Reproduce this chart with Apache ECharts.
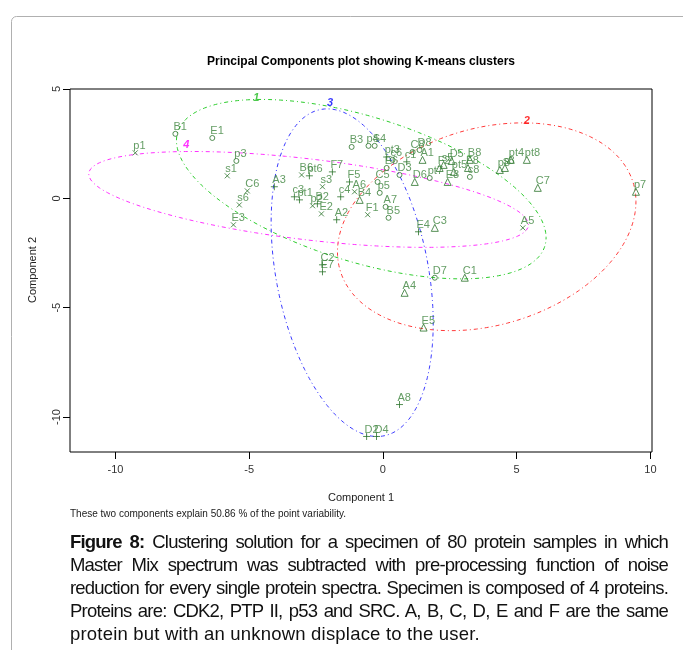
<!DOCTYPE html>
<html><head><meta charset="utf-8">
<script src="https://cdn.jsdelivr.net/npm/echarts@6/dist/echarts.min.js"></script>
<style>
html,body{margin:0;padding:0;background:#fff;}
#wrap{position:relative;width:683px;height:650px;overflow:hidden;}
#chart{position:absolute;left:0;top:0;width:683px;height:650px;}
#cap{position:absolute;left:70px;top:530px;width:598px;font-family:"Liberation Sans",Arial,sans-serif;font-size:18.5px;line-height:23px;color:#111;}
#cap span{display:block;white-space:nowrap;}
#cap span.j{text-align:justify;text-align-last:justify;letter-spacing:-0.8px;}
#cap span.l{letter-spacing:0.2px;}
</style></head>
<body><div id="wrap"><div id="chart"></div>
<div id="cap">
<span class="j"><b>Figure 8:</b> Clustering solution for a specimen of 80 protein samples in which</span>
<span class="j">Master Mix spectrum was subtracted with pre-processing function of noise</span>
<span class="j">reduction for every single protein spectra. Specimen is composed of 4 proteins.</span>
<span class="j">Proteins are: CDK2, PTP II, p53 and SRC. A, B, C, D, E and F are the same</span>
<span class="l">protein but with an unknown displace to the user.</span>
</div></div>
<script>
// ---- tick labels ----
const xTicks = [-10, -5, 0, 5, 10];
const yTicks = [-10, -5, 0, 5];

// ---- cluster 1 (circles) ----
const c1Names = ['B1','E1','p3','B3','p4','S4','p5','A7','B5','D7','C8','D8','C5','c8','E6','D3','c6','pt7'];
const c1X = [-7.76,-6.38,-5.48,-1.17,-0.54,-0.31,-0.12,0.10,0.21,1.94,1.11,1.37,-0.20,3.25,0.14,0.62,0.36,1.75];
const c1Y = [2.95,2.76,1.71,2.35,2.40,2.40,0.25,-0.39,-0.89,-3.63,2.12,2.21,0.75,0.98,1.39,1.07,1.76,0.93];

// ---- cluster 2 (triangles) ----
const c2Names = ['B4','C3','C1','A4','E5','D5','A1','E8','C7','pt4','pt8','p8','s8','p7','D6','F2','s5','B8','F8','pt5'];
const c2X = [-0.87,1.94,3.06,0.81,1.52,2.57,1.48,2.42,5.79,4.78,5.38,4.37,4.56,9.46,1.19,2.12,2.27,3.25,3.18,2.65];
const c2Y = [-0.07,-1.35,-3.63,-4.32,-5.91,1.71,1.76,0.75,0.48,1.76,1.76,1.30,1.39,0.30,0.75,1.39,1.53,1.76,1.39,1.21];

// ---- cluster 3 (plus) ----
const c3Names = ['A3','pt6','F7','F5','c4','c3','pt1','B2','A2','E4','C2','E7','A8','D2','D4','pt3','c1'];
const c3X = [-4.06,-2.75,-1.89,-1.25,-1.58,-3.31,-3.12,-2.45,-1.73,1.33,-2.26,-2.26,0.62,-0.61,-0.24,0.14,0.89];
const c3Y = [0.53,1.03,1.21,0.75,0.07,0.07,-0.07,-0.25,-0.98,-1.53,-3.04,-3.36,-9.43,-10.89,-10.89,1.89,1.67];

// ---- cluster 4 (x) ----
const c4Names = ['p1','s1','C6','s6','E3','B6','s3','A6','p2','E2','F1','A5'];
const c4X = [-9.26,-5.82,-5.07,-5.37,-5.59,-3.04,-2.26,-1.06,-2.63,-2.30,-0.57,5.23];
const c4Y = [2.08,1.03,0.34,-0.30,-1.21,1.07,0.53,0.30,-0.34,-0.71,-0.75,-1.35];

// ---- cluster ellipses: centre, first and second conjugate semi-axes ----
const ellCenter = [[-0.81,0.42],[3.88,-1.30],[-1.15,-3.40],[-2.78,-0.05]];
const ellU = [[6.91,-2.22],[5.58,1.15],[3.03,-2.30],[8.22,-1.16]];
const ellV = [[0,3.45],[0,4.61],[0,7.13],[0,1.86]];
const ellColors = ['#2ccc2c','#ff3a3a','#3a3aff','#ff30ff'];
const clusterLabelNames = ['1','2','3','4'];
const clusterLabelX = [-4.73,5.38,-1.98,-7.35];
const clusterLabelY = [4.61,3.52,4.34,2.42];
const clusterLabelColors = ['#22bb22','#ff0000','#0000ff','#ff00ff'];

const PT = '#2a732a';
const FONT = '"Liberation Sans", Arial, sans-serif';

function ellipsePts(i){
  const out=[];
  for(let k=0;k<=180;k++){
    const t=2*Math.PI*k/180;
    out.push([ellCenter[i][0]+ellU[i][0]*Math.cos(t)+ellV[i][0]*Math.sin(t),
              ellCenter[i][1]+ellU[i][1]*Math.cos(t)+ellV[i][1]*Math.sin(t)]);
  }
  return out;
}
function pts(names,xs,ys){return names.map((n,i)=>({name:n,value:[xs[i],ys[i]]}));}

const labelCfg = {show:true,formatter:'{b}',position:'inside',align:'left',verticalAlign:'middle',
  offset:[-2,-7],color:'#3d843d',fontSize:11,fontFamily:FONT};
function sc(data,symbol,size){
  return {type:'scatter',data:data,symbol:symbol,symbolSize:size,silent:true,z:5,
    itemStyle:{color:'rgba(0,0,0,0)',borderColor:PT,borderWidth:1},
    label:labelCfg,emphasis:{disabled:true}};
}

const series=[];
for(let i=0;i<4;i++){
  series.push({type:'line',data:ellipsePts(i),showSymbol:false,silent:true,smooth:false,z:3,
    lineStyle:{color:ellColors[i],width:1,type:[1,3,4,3]}});
}
series.push(sc(pts(c1Names,c1X,c1Y),'circle',5));
series.push(sc(pts(c2Names,c2X,c2Y),'triangle',7));
series.push(sc(pts(c3Names,c3X,c3Y),'path://M5,0L5,10M0,5L10,5',7));
series.push(sc(pts(c4Names,c4X,c4Y),'path://M0,0L10,10M10,0L0,10',5));
series.push({type:'scatter',symbolSize:0,silent:true,z:6,
  data:clusterLabelNames.map((n,i)=>({name:n,value:[clusterLabelX[i],clusterLabelY[i]],
    label:{color:clusterLabelColors[i]}})),
  label:{show:true,formatter:'{b}',position:'inside',fontSize:11,fontWeight:'bold',fontStyle:'italic',fontFamily:FONT}});

const chart = echarts.init(document.getElementById('chart'),null,{renderer:'canvas'});
chart.setOption({
  animation:false,
  grid:{left:70,right:31,top:89,bottom:198,show:true,borderColor:'#000',borderWidth:1,backgroundColor:'transparent'},
  xAxis:{type:'value',min:-11.7,max:10.06,position:'bottom',
    axisLine:{show:false,onZero:false},splitLine:{show:false},
    axisTick:{show:true,length:7,lineStyle:{color:'#000'},customValues:xTicks},
    axisLabel:{customValues:xTicks,margin:12,color:'#333',fontSize:11,fontFamily:FONT}},
  yAxis:{type:'value',min:-11.6,max:5.0,position:'left',
    axisLine:{show:false,onZero:false},splitLine:{show:false},
    axisTick:{show:true,length:7,lineStyle:{color:'#000'},customValues:yTicks},
    axisLabel:{customValues:yTicks,margin:8,rotate:90,color:'#333',fontSize:11,fontFamily:FONT}},
  graphic:[
    {type:'rect',shape:{x:11.5,y:16.5,width:900,height:900,r:5},style:{fill:'none',stroke:'#b0b0b0',lineWidth:1},silent:true},
    {type:'text',x:361,y:62,style:{text:'Principal Components plot showing K-means clusters',fontSize:12,fontWeight:'bold',fontFamily:FONT,fill:'#000',align:'center',verticalAlign:'middle'}},
    {type:'text',x:361,y:498,style:{text:'Component 1',fontSize:11,fontFamily:FONT,fill:'#222',align:'center',verticalAlign:'middle'}},
    {type:'text',x:33,y:270,rotation:Math.PI/2,style:{text:'Component 2',fontSize:11,fontFamily:FONT,fill:'#222',align:'center',verticalAlign:'middle'}},
    {type:'text',x:70,y:514,style:{text:'These two components explain 50.86 % of the point variability.',fontSize:10,fontFamily:FONT,fill:'#222',align:'left',verticalAlign:'middle'}}
  ],
  series:series
});
</script></body></html>
